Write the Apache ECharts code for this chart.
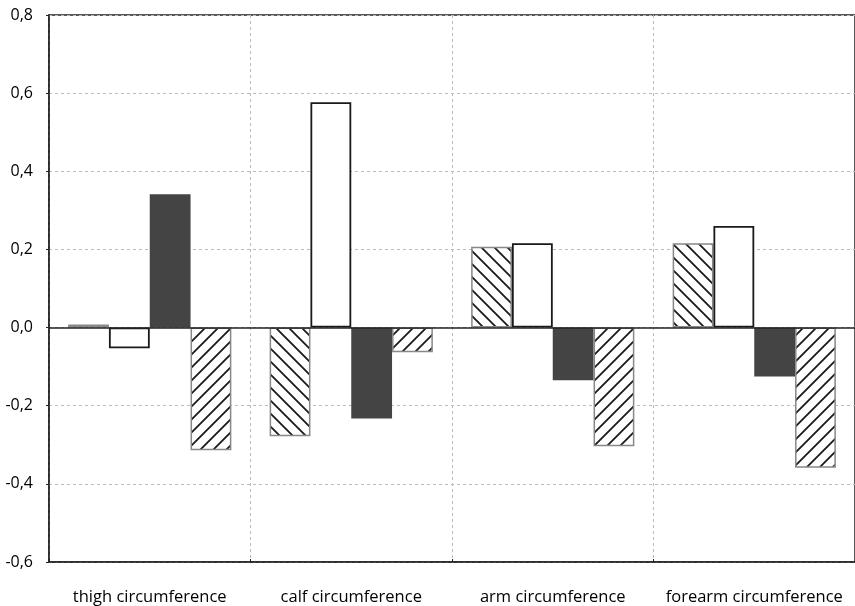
<!DOCTYPE html>
<html>
<head>
<meta charset="utf-8">
<script src="https://cdn.jsdelivr.net/npm/echarts@6/dist/echarts.min.js"></script>
<style>
  html, body { margin: 0; padding: 0; background: #fff; }
  #chart { width: 855px; height: 606px; }
</style>
</head>
<body>
<div id="chart"></div>
<script>
// Correlation values per body measurement, four series each
const categories = ['thigh circumference', 'calf circumference', 'arm circumference', 'forearm circumference'];
const seriesA = [0.008, -0.278, 0.207, 0.216];   // back-hatched bars
const seriesB = [-0.053, 0.577, 0.216, 0.260];   // white bars
const seriesC = [0.341, -0.233, -0.135, -0.125]; // dark bars
const seriesD = [-0.314, -0.063, -0.304, -0.359]; // forward-hatched bars
const yTicks = { min: -0.6, max: 0.8, step: 0.2 };

// Diagonal hatch tile; dir = 1 for "/" lines, -1 for "\" lines
function hatch(dir) {
  const s = 13;
  const c = document.createElement('canvas');
  c.width = s; c.height = s;
  const g = c.getContext('2d');
  g.fillStyle = '#fff';
  g.fillRect(0, 0, s, s);
  g.strokeStyle = '#1a1a1a';
  g.lineWidth = 1.8;
  g.beginPath();
  if (dir > 0) {
    g.moveTo(-1, s + 1); g.lineTo(s + 1, -1);
    g.moveTo(-1, 1); g.lineTo(1, -1);
    g.moveTo(s - 1, s + 1); g.lineTo(s + 1, s - 1);
  } else {
    g.moveTo(-1, -1); g.lineTo(s + 1, s + 1);
    g.moveTo(-1, s - 1); g.lineTo(1, s + 1);
    g.moveTo(s - 1, -1); g.lineTo(s + 1, 1);
  }
  g.stroke();
  return { image: c, repeat: 'repeat' };
}

const fmt = v => (Math.abs(v) < 1e-9 ? 0 : v).toFixed(1).replace('.', ',');

const chart = echarts.init(document.getElementById('chart'), null, { renderer: 'canvas' });
chart.setOption({
  animation: false,
  backgroundColor: '#fff',
  grid: {
    left: 49, top: 15, width: 811, bottom: 43,
    show: true, borderColor: '#222', borderWidth: 1.5, backgroundColor: 'transparent'
  },
  xAxis: {
    type: 'category',
    data: categories,
    boundaryGap: true,
    axisLine: { onZero: false, lineStyle: { color: '#222', width: 1.5 } },
    axisTick: { show: true, inside: true, length: 3, interval: 0, lineStyle: { color: '#222' } },
    axisLabel: { color: '#000', fontSize: 16.5, fontFamily: 'Open Sans', margin: 27, interval: 0 },
    splitLine: { show: true, interval: 0, lineStyle: { color: '#bbb', type: [3, 3], width: 1 } }
  },
  yAxis: {
    type: 'value',
    min: yTicks.min, max: yTicks.max, interval: yTicks.step,
    axisLine: { show: true, lineStyle: { color: '#222', width: 1.5 } },
    axisTick: { show: true, length: 3, lineStyle: { color: '#222' } },
    axisLabel: { color: '#000', fontSize: 16, fontFamily: 'Open Sans', margin: 16, formatter: fmt },
    splitLine: { show: true, lineStyle: { color: '#bbb', type: [3, 3], width: 1 } }
  },
  series: [
    {
      type: 'bar', data: seriesA, barGap: '0%', barCategoryGap: '19%',
      itemStyle: { color: hatch(-1), borderColor: '#888', borderWidth: 1.5 },
      markLine: {
        silent: true, symbol: 'none', label: { show: false },
        lineStyle: { color: '#222', type: 'solid', width: 1.5 },
        data: [{ yAxis: 0 }]
      }
    },
    {
      type: 'bar', data: seriesB, barGap: '0%', barCategoryGap: '19%',
      itemStyle: { color: '#fff', borderColor: '#1a1a1a', borderWidth: 1.8 }
    },
    {
      type: 'bar', data: seriesC, barGap: '0%', barCategoryGap: '19%',
      itemStyle: { color: '#444' }
    },
    {
      type: 'bar', data: seriesD, barGap: '0%', barCategoryGap: '19%',
      itemStyle: { color: hatch(1), borderColor: '#888', borderWidth: 1.5 }
    }
  ]
});
</script>
</body>
</html>
